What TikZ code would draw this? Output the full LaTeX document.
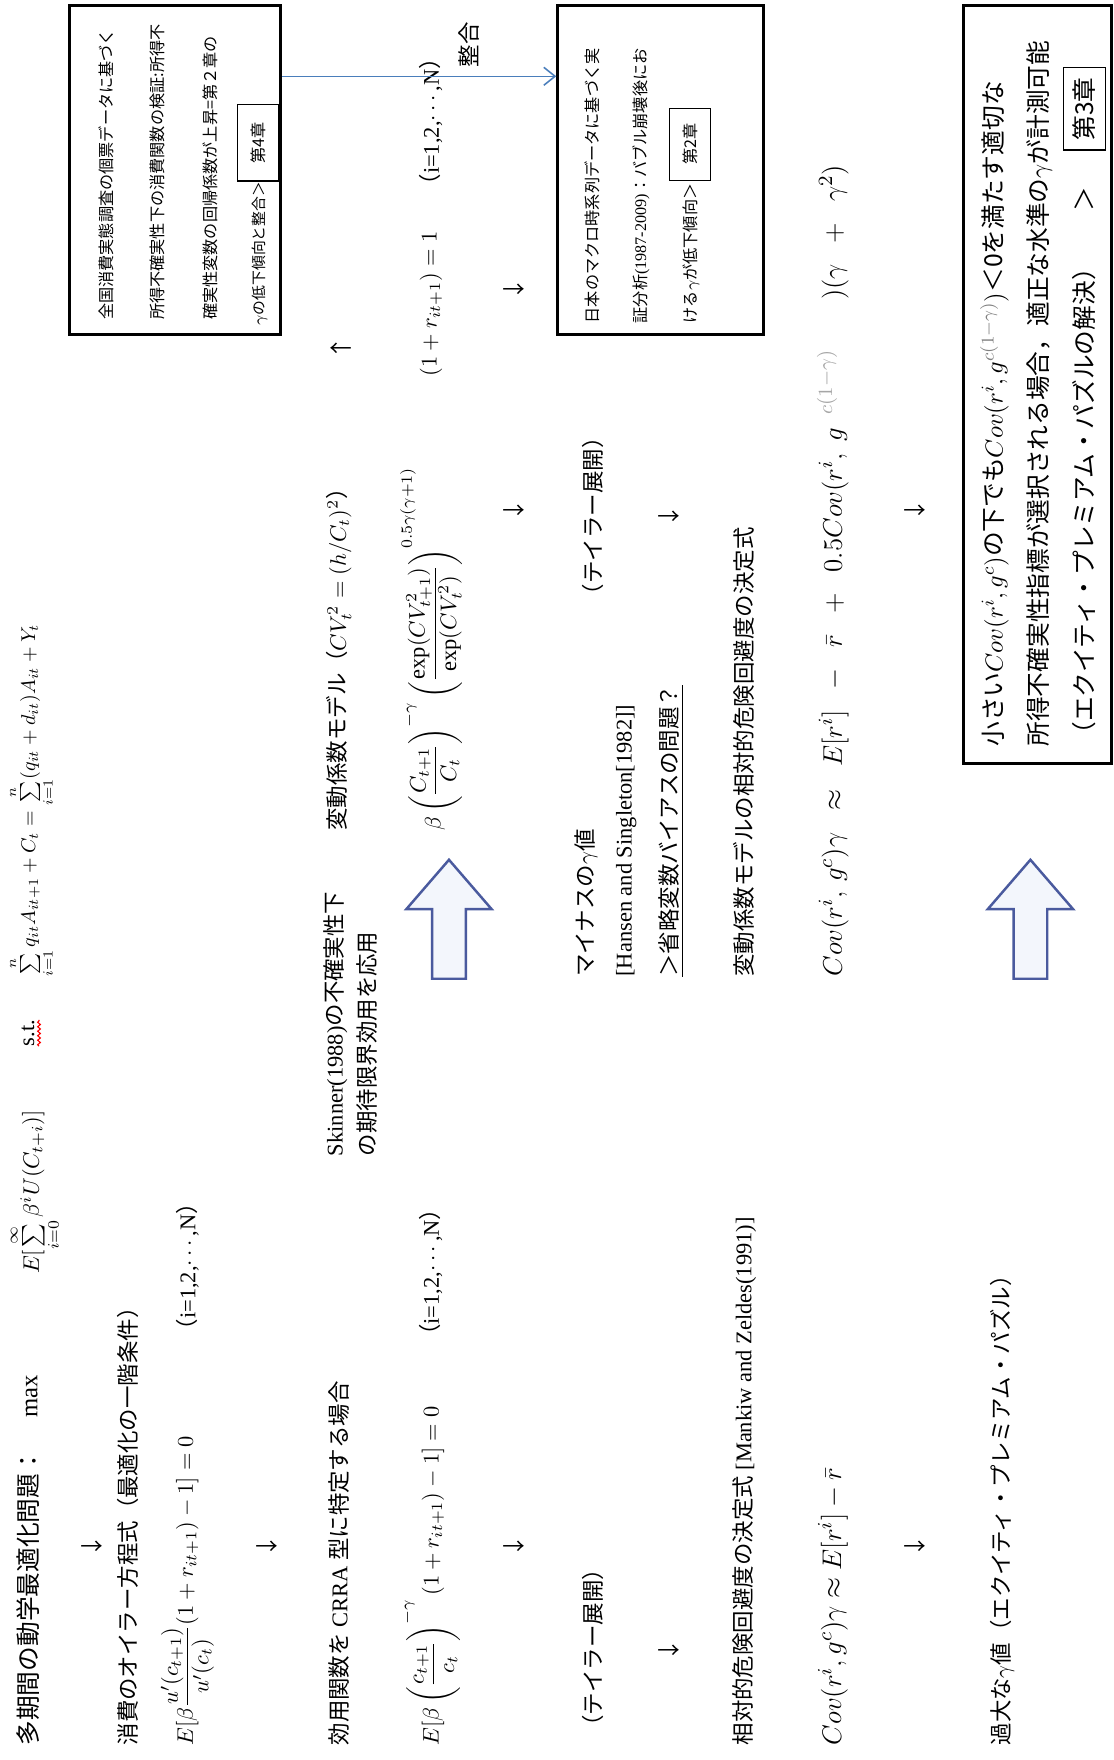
\documentclass[tikz,border=0pt]{standalone}
\usepackage{amsmath}
\usepackage{graphicx}
\usepackage{fontspec}
\setmainfont{Liberation Serif}
\newfontfamily\jp{Noto Sans CJK JP}
\newcommand\J[1]{{\jp #1}}
\newcommand\chapbox[3]{{\setlength{\fboxsep}{#1}\setlength{\fboxrule}{0.6pt}\fbox{\hspace{#2}\J{#3}\hspace{#2}}}}
\usetikzlibrary{arrows.meta,decorations.pathmorphing,fit}
\definecolor{linkblue}{HTML}{4A7EBB}
\definecolor{arrowblue}{HTML}{4A5A9E}
\definecolor{arrowfill}{HTML}{F3F6FC}
\tikzset{
  lab/.style={rotate=90, anchor=west, inner sep=0pt, outer sep=0pt},
  mtext/.style={lab, font=\fontsize{10}{12}\selectfont},
  btext/.style={lab, font=\fontsize{7.2}{9}\selectfont},
  ctext/.style={lab, font=\fontsize{11}{13}\selectfont},
  covtext/.style={lab, font=\fontsize{12.5}{15}\selectfont},
  glyph/.style={rotate=90, inner sep=0pt, font=\fontsize{10}{12}\selectfont\jp},
  bigbox/.style={draw, line width=1.4pt, inner sep=0pt},
  hollow/.style={draw=arrowblue, fill=arrowfill, line width=1.1pt, line join=miter},
  link/.style={draw=linkblue, line width=0.7pt, -{Straight Barb[length=5pt,width=8pt]}},
}
\begin{document}
\begin{tikzpicture}[x=0.5pt,y=0.5pt]
\useasboundingbox (0,0) rectangle (992,1568);

% ---- boxes
\node[bigbox, fit={(62,1270) (250,1563)}] (boxA) {};
\node[bigbox, fit={(497,1270) (680,1563)}] (boxB) {};
\node[bigbox, fit={(858,888) (990,1563)}] (boxC) {};

% ---- row 1
\node[mtext, font=\fontsize{11}{13}\selectfont] (r1a) at (25,13) {\J{多期間の動学最適化問題：}\hspace{14pt}max};
\node[mtext] (r1b) at (31,433) {$E[\sum\limits_{i=0}^{\infty}\beta^{i}U(C_{t+i})]$};
\node[mtext] (r1c) at (25,636) {s.t.};
\draw[red, line width=0.5pt, decorate, decoration={snake, amplitude=0.6pt, segment length=2pt}]
  ([xshift=2pt]r1c.south west) -- ([xshift=2pt]r1c.south east);
\node[mtext] (r1d) at (28,698) {\resizebox{157pt}{!}{$\sum\limits_{i=1}^{n}q_{it}A_{it+1}+C_{t}=\sum\limits_{i=1}^{n}(q_{it}+d_{it})A_{it}+Y_{t}$}};
\node[glyph] (d1) at (82,190) {↓};

% ---- row 2, 3
\node[mtext] (r2) at (114,13) {\J{消費のオイラー方程式（最適化の一階条件）}};
\node[mtext] (r3a) at (167,13) {$E[\beta\dfrac{u'(c_{t+1})}{u'(c_{t})}(1+r_{it+1})-1]=0$};
\node[mtext] (r3b) at (167,373) {\J{（}i=1,2,$\cdots$,N\J{）}};
\node[glyph] (d2) at (238,190) {↓};

% ---- row 4
\node[mtext] (r4a) at (302,13) {\J{効用関数を} CRRA \J{型に特定する場合}};
\node[mtext] (sk1) at (299,538) {Skinner(1988)\J{の不確実性下}};
\node[mtext] (sk2) at (327,538) {\J{の期待限界効用を応用}};
\node[mtext] (r4c) at (302,828) {\J{変動係数モデル（}$CV_{t}^{2}=(h/C_{t})^{2}$\J{）}};
\node[glyph] (u4) at (304,1258) {↑};

% ---- row 5
\node[mtext] (r5a) at (384,13) {$E[\beta\left(\dfrac{c_{t+1}}{c_{t}}\right)^{-\gamma}(1+r_{it+1})-1]=0$};
\node[mtext] (r5b) at (384,368) {\J{（}i=1,2,$\cdots$,N\J{）}};
\node[mtext] (r5c) at (384,828) {$\beta\left(\dfrac{C_{t+1}}{C_{t}}\right)^{-\gamma}\left(\dfrac{\exp(CV_{t+1}^{2})}{\exp(CV_{t}^{2})}\right)^{0.5\gamma(\gamma+1)}$};
\node[mtext] (r5d) at (384,1233) {$(1+r_{it+1})=1$};
\node[mtext] (r5e) at (384,1393) {\J{（}i=1,2,$\cdots$,N\J{）}};
\draw[hollow] (400,802) -- (438,758) -- (415,758) -- (415,696) -- (385,696) -- (385,758) -- (362,758) -- cycle;
\node[glyph] (d3) at (458,190) {↓};
\node[glyph] (d3u) at (458,1113) {↓};
\node[glyph] (d3b) at (458,1310) {↓};

% ---- row 6
\node[mtext] (r6a) at (528,20) {\J{（テイラー展開）}};
\node[mtext] (r6u) at (528,1028) {\J{（テイラー展開）}};
\node[mtext] (mi) at (522,698) {\J{マイナスの}$\gamma$\J{値}};
\node[mtext] (hs) at (558,698) {[Hansen and Singleton[1982]]};
\node[mtext] (om) at (596,698) {\J{＞省略変数バイアスの問題？}};
\draw[line width=0.6pt] ([xshift=1.5pt]om.south west) -- ([xshift=1.5pt]om.south east);
\node[glyph] (d4) at (596,98) {↓};
\node[glyph] (d4u) at (596,1108) {↓};

% ---- row 7, 8
\node[mtext] (r7a) at (663,13) {\J{相対的危険回避度の決定式} [Mankiw and Zeldes(1991)]};
\node[mtext] (r7u) at (663,698) {\J{変動係数モデルの相対的危険回避度の決定式}};
\node[covtext] (r8a) at (742,13) {$Cov(r^{i},g^{c})\gamma\approx E[r^{i}]-\bar{r}$};
\node[covtext] (r8u) at (742,698) {$Cov(r^{i},\,g^{c})\gamma\;\;\approx\;\;E[r^{i}]\;\;-\;\;\bar{r}\;\;+\;\;0.5Cov(r^{i},\;g^{\hspace{6pt}\textcolor{gray!70}{c(1-\gamma)}\hspace{22pt}})(\gamma\;\;+\;\;\gamma^{2})$};
\node[glyph] (d5) at (815,190) {↓};
\node[glyph] (d5u) at (815,1113) {↓};

% ---- row 9
\node[mtext] (r9) at (893,13) {\J{過大な}$\gamma$\J{値（エクイティ・プレミアム・パズル）}};
\draw[hollow] (918,802) -- (956,758) -- (933,758) -- (933,696) -- (903,696) -- (903,758) -- (880,758) -- cycle;

% ---- box A text
\node[btext] (a1) at (95,1283) {\J{全国消費実態調査の個票データに基づく}};
\node[btext] (a2) at (140,1283) {\J{所得不確実性下の消費関数の検証:所得不}};
\node[btext] (a3) at (187,1283) {\J{確実性変数の回帰係数が上昇=第２章の}};
\node[btext] (a4) at (230,1278) {{\fontsize{6.6}{8}\selectfont$\gamma$\J{の低下傾向と整合＞}}\chapbox{5.5pt}{2pt}{第4章}};

% ---- box B text
\node[btext] (b1) at (528,1280) {\J{日本のマクロ時系列データに基づく実}};
\node[btext] (b2) at (571,1280) {\J{証分析}(1987-2009)\J{：バブル崩壊後にお}};
\node[btext] (b3) at (615,1280) {\J{ける}$\gamma$\J{が低下傾向＞}\,\chapbox{5.5pt}{1pt}{第2章}};

% ---- box C text
\node[ctext] (c1) at (886,903) {\J{小さい}$Cov(r^{i},g^{c})$\J{の下でも}$Cov(r^{i},g^{\textcolor{gray}{c(1-\gamma)}})$\J{＜0を満たす適切な}};
\node[ctext] (c2) at (926,903) {\J{所得不確実性指標が選択される場合，適正な水準の}$\gamma$\J{が計測可能}};
\node[ctext] (c3) at (966,903) {\J{（エクイティ・プレミアム・パズルの解決）}\hspace{20pt}\J{＞}\hspace{16pt}\chapbox{4pt}{0pt}{第3章}};

% ---- link A -> B
\coordinate (ly) at (0,1500);
\draw[link] (boxA.east |- ly) -- (boxB.west |- ly);
\node[glyph] (sg) at (418,1528) {整合};
\end{tikzpicture}
\end{document}
